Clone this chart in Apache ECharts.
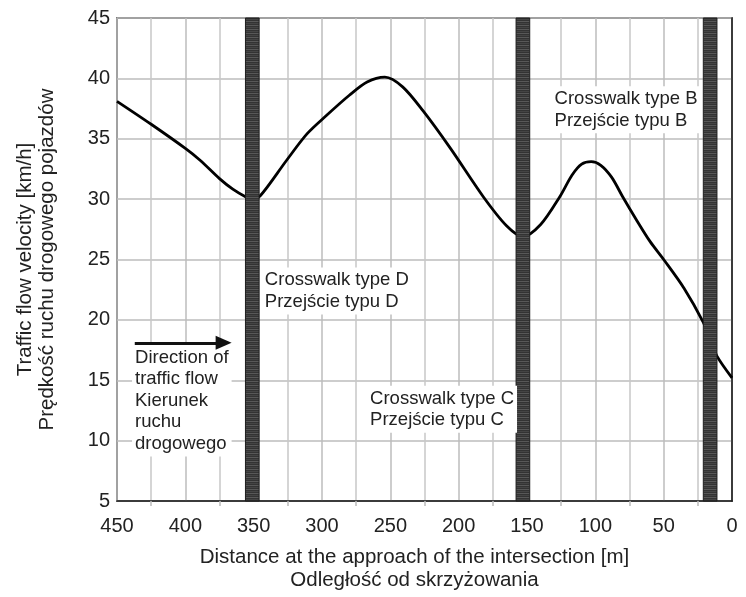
<!DOCTYPE html>
<html>
<head>
<meta charset="utf-8">
<script src="https://cdn.jsdelivr.net/npm/echarts@6/dist/echarts.min.js"></script>
<style>
  html, body { margin: 0; padding: 0; background: #fff; }
  #chart { width: 746px; height: 597px; }
</style>
</head>
<body>
<div id="chart"></div>
<script>
var distance = [450, 425, 400, 389, 375, 365, 356, 351, 345, 326, 311, 297, 280, 267, 254, 241, 226, 206, 182, 165, 153, 140, 126, 117, 110, 103, 96, 88, 80, 70, 60, 50, 35, 21, 16, 11, 0];
var velocity = [38.1, 36.2, 34.2, 33.2, 31.7, 30.8, 30.2, 30.0, 30.3, 33.2, 35.4, 36.9, 38.6, 39.7, 40.1, 39.3, 37.3, 34.2, 30.2, 27.8, 26.9, 27.9, 30.2, 32.0, 32.9, 33.1, 32.8, 31.8, 30.2, 28.3, 26.5, 25.0, 22.6, 19.8, 18.4, 17.0, 15.2];

// crosswalk strips [from, to] in metres
var crosswalks = [[356, 346], [158, 148], [21, 11]];

var notes = [
  { text: 'Crosswalk type D\nPrzejście typu D', at: [344, 22.4] },
  { text: 'Crosswalk type C\nPrzejście typu C', at: [267, 12.6] },
  { text: 'Crosswalk type B\nPrzejście typu B', at: [132, 37.4] },
  { text: 'Direction of\ntraffic flow\nKierunek\nruchu\ndrogowego', at: [439, 13.3] }
];
var arrowFrom = [437, 18.1];
var arrowTo = [372, 18.1];

var font = "'Liberation Sans', Arial, sans-serif";

// striped fill for the crosswalk strips
var pat = document.createElement('canvas');
pat.width = 4; pat.height = 4;
var pc = pat.getContext('2d');
pc.fillStyle = '#333'; pc.fillRect(0, 0, 4, 4);
pc.fillStyle = '#585858'; pc.fillRect(0, 1, 4, 1);
pc.fillStyle = '#444'; pc.fillRect(0, 3, 4, 1);

var dom = document.getElementById('chart');
var myChart = echarts.init(dom, null, { renderer: 'canvas' });

var option = {
  animation: false,
  textStyle: { fontFamily: font },
  grid: {
    left: 117, right: 14, top: 18, bottom: 86,
    show: true, borderColor: '#1a1a1a', borderWidth: 1.5
  },
  xAxis: {
    type: 'value',
    min: 0, max: 450, interval: 50,
    inverse: true,
    name: 'Distance at the approach of the intersection [m]\nOdległość od skrzyżowania',
    nameLocation: 'middle',
    nameGap: 45,
    nameTextStyle: { fontSize: 20.5, lineHeight: 23, color: '#222', fontFamily: font, padding: [0, 20, 0, 0] },
    axisLine: { lineStyle: { color: '#1a1a1a', width: 1.5 } },
    axisTick: { show: false },
    minorTick: { show: true, splitNumber: 2, length: 5, lineStyle: { color: '#bbb', width: 1.5 } },
    axisLabel: { fontSize: 20, color: '#222', margin: 15, fontFamily: font },
    splitLine: { show: true, lineStyle: { color: '#bdbdbd', width: 1.5 } },
    minorSplitLine: { show: true, lineStyle: { color: '#c8c8c8', width: 1.5 } }
  },
  yAxis: {
    type: 'value',
    min: 5, max: 45, interval: 5,
    name: 'Traffic flow velocity [km/h]\nPrędkość ruchu drogowego pojazdów',
    nameLocation: 'middle',
    nameGap: 59,
    nameTextStyle: { fontSize: 20.5, lineHeight: 22, color: '#222', fontFamily: font },
    axisLine: { show: true, lineStyle: { color: '#1a1a1a', width: 1.5 } },
    axisTick: { show: false },
    axisLabel: { fontSize: 20, color: '#222', margin: 7, fontFamily: font },
    splitLine: { show: true, lineStyle: { color: '#bdbdbd', width: 1.5 } }
  },
  series: [
    {
      name: 'velocity',
      type: 'line',
      z: 2,
      smooth: 0.3,
      showSymbol: false,
      lineStyle: { color: '#000', width: 2.8 },
      data: distance.map(function (d, i) { return [d, velocity[i]]; })
    },
    {
      name: 'crosswalks',
      type: 'line',
      data: [],
      markArea: {
        z: 5,
        silent: true,
        itemStyle: { color: { image: pat, repeat: 'repeat' }, borderColor: '#1e1e1e', borderWidth: 1 },
        data: crosswalks.map(function (c) { return [{ xAxis: c[0] }, { xAxis: c[1] }]; })
      }
    },
    {
      name: 'notes',
      type: 'line',
      data: [],
      markPoint: {
        z: 6,
        silent: true,
        symbol: 'circle',
        symbolSize: 0,
        label: {
          show: true,
          position: 'right',
          distance: 0,
          fontSize: 18.5,
          lineHeight: 21.5,
          color: '#222',
          fontFamily: font,
          backgroundColor: '#fff',
          padding: [2, 3],
          formatter: function (p) { return p.name; }
        },
        data: notes.map(function (n) { return { name: n.text, coord: n.at }; })
      },
      markLine: {
        z: 6,
        silent: true,
        symbol: ['none', 'none'],
        label: { show: false },
        lineStyle: { color: '#111', width: 3, type: 'solid' },
        data: [[{ coord: arrowFrom }, { coord: arrowTo }]]
      }
    },
    {
      name: 'arrowhead',
      type: 'scatter',
      z: 7,
      silent: true,
      symbol: 'triangle',
      symbolSize: [14, 16],
      symbolRotate: -90,
      itemStyle: { color: '#111', opacity: 1 },
      data: [arrowTo]
    }
  ]
};

if (option && typeof option === 'object') {
  myChart.setOption(option);
}

window.addEventListener('resize', myChart.resize);
</script>
</body>
</html>
